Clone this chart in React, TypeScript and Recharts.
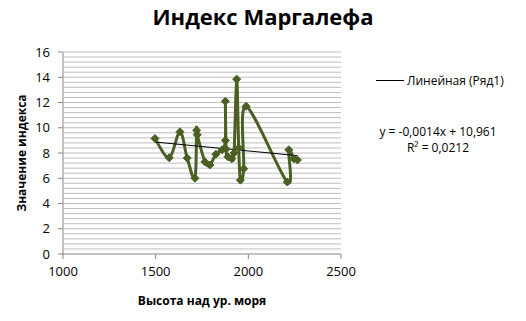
import { Line, LineChart, XAxis, YAxis } from "recharts";

// altitude (m) and Margalef index, in the order the series is drawn
const altitudes = [1496, 1573, 1631, 1670, 1712, 1721, 1724, 1766, 1793, 1825, 1858, 1876, 1876, 1880, 1890, 1910, 1923, 1937, 1948, 1957, 1975, 1988, 2210, 2218, 2245, 2265];
const indexValues = [9.15, 7.62, 9.68, 7.6, 6.0, 9.8, 9.45, 7.3, 7.05, 7.9, 8.25, 9.0, 12.1, 8.3, 7.7, 7.55, 8.0, 13.85, 8.4, 5.85, 6.75, 11.7, 5.7, 8.25, 7.55, 7.45];

// linear trendline end points
const trendX = [1496, 2265];
const trendY = [8.87, 7.79];

const xTicks = [1000, 1500, 2000, 2500];
const yTicks = [0, 2, 4, 6, 8, 10, 12, 14, 16];

const series = altitudes.map((x, i) => ({ x, y: indexValues[i] }));
const trend = trendX.map((x, i) => ({ x, t: trendY[i] }));
// minor gridlines: 5 per major step
const gridValues = yTicks.flatMap((t, i) => (i === 0 ? [t] : [1, 2, 3, 4, 5].map((k) => yTicks[i - 1] + (k * (t - yTicks[i - 1])) / 5)));
const yMin = yTicks[0];
const yMax = yTicks[yTicks.length - 1];

const GREEN = "#4b5f23";
const FONT = "'Open Sans', 'DejaVu Sans', sans-serif";
const W = 526;
const H = 321;
const MARGIN = { top: 52, right: 185, left: 0, bottom: 37 };
const PLOT_W = W - MARGIN.right - 63;
const TICK = 5;
const GAP = 8;

// Catmull-Rom style smoothing, close to Excel's smoothed lines
function smoothCurve(context: any) {
  let pts: number[][] = [];
  return {
    areaStart() {},
    areaEnd() {},
    lineStart() {
      pts = [];
    },
    point(x: number, y: number) {
      pts.push([+x, +y]);
    },
    lineEnd() {
      const n = pts.length;
      if (!n) return;
      context.moveTo(pts[0][0], pts[0][1]);
      for (let i = 0; i < n - 1; i++) {
        const p0 = pts[i - 1] || pts[i];
        const p1 = pts[i];
        const p2 = pts[i + 1];
        const p3 = pts[i + 2] || pts[i + 1];
        context.bezierCurveTo(
          p1[0] + (p2[0] - p0[0]) / 6,
          p1[1] + (p2[1] - p0[1]) / 6,
          p2[0] - (p3[0] - p1[0]) / 6,
          p2[1] - (p3[1] - p1[1]) / 6,
          p2[0],
          p2[1]
        );
      }
    },
  };
}

const Diamond = (props: any) => {
  const { cx, cy, index } = props;
  if (cx == null || cy == null) return <g key={`d${index}`} />;
  const r = 4;
  return <polygon key={`d${index}`} points={`${cx},${cy - r} ${cx + r},${cy} ${cx},${cy + r} ${cx - r},${cy}`} fill={GREEN} stroke={GREEN} />;
};

// gridline drawn from each tick of the background chart's y axis
const GridTick = (props: any) => {
  const { x, y, payload } = props;
  if (payload.value <= yMin) return <g />;
  const axisX = x + TICK + GAP;
  return <line x1={axisX + 1} x2={axisX + PLOT_W} y1={y} y2={y} stroke="#bdbdbd" strokeWidth={1} />;
};

export default function App() {
  return (
    <div style={{ position: "absolute", left: 0, top: 0, width: W, height: H, background: "#fff", fontFamily: FONT }}>
      <div style={{ position: "absolute", left: 0, width: W, top: 1, textAlign: "center", fontSize: 22, fontWeight: 700, color: "#000" }}>
        Индекс Маргалефа
      </div>
      {/* background chart: gridlines only */}
      <div style={{ position: "absolute", left: 0, top: 0 }}>
        <LineChart width={W} height={H} data={series} margin={MARGIN}>
          <YAxis type="number" domain={[yMin, yMax]} ticks={gridValues} interval={0} width={63} tickSize={TICK} tickMargin={GAP} tickLine={false} axisLine={false} tick={GridTick} />
          <XAxis dataKey="x" type="number" domain={[1000, 2500]} ticks={xTicks} height={30} axisLine={false} tickLine={false} tick={false} />
          <Line dataKey="y" stroke="none" dot={false} activeDot={false} isAnimationActive={false} />
        </LineChart>
      </div>
      {/* foreground chart: axes and series */}
      <div style={{ position: "absolute", left: 0, top: 0 }}>
        <LineChart width={W} height={H} data={series} margin={MARGIN}>
          <YAxis
            type="number"
            domain={[yMin, yMax]}
            ticks={yTicks}
            width={63}
            tickSize={TICK}
            tickMargin={GAP}
            stroke="#868686"
            tick={{ fill: "#000", fontSize: 13, fontFamily: FONT }}
          />
          <XAxis
            dataKey="x"
            type="number"
            domain={[1000, 2500]}
            ticks={xTicks}
            allowDataOverflow
            height={30}
            tickSize={TICK}
            tickMargin={GAP}
            stroke="#868686"
            tick={{ fill: "#000", fontSize: 13, fontFamily: FONT }}
          />
          <Line dataKey="y" type={smoothCurve as any} stroke={GREEN} strokeWidth={3} dot={Diamond} activeDot={false} isAnimationActive={false} />
          <Line data={trend} dataKey="t" type="linear" stroke="#000" strokeWidth={1} dot={false} activeDot={false} isAnimationActive={false} name="Линейная (Ряд1)" />
        </LineChart>
      </div>
      <div style={{ position: "absolute", left: 21, top: 153, transform: "translate(-50%, -50%) rotate(-90deg)", whiteSpace: "nowrap", fontSize: 12, fontWeight: 700 }}>
        Значение индекса
      </div>
      <div style={{ position: "absolute", left: 202, top: 300, transform: "translate(-50%, -50%)", whiteSpace: "nowrap", fontSize: 12, fontWeight: 700 }}>
        Высота над ур. моря
      </div>
      <div style={{ position: "absolute", left: 376, top: 80, width: 28, height: 1, background: "#000" }} />
      <div style={{ position: "absolute", left: 407, top: 80, transform: "translateY(-50%)", whiteSpace: "nowrap", fontSize: 12, color: "#000" }}>
        Линейная (Ряд1)
      </div>
      <div style={{ position: "absolute", left: 438, top: 140, transform: "translate(-50%, -50%)", textAlign: "center", whiteSpace: "nowrap", fontSize: 12, lineHeight: "16px", color: "#000" }}>
        y = -0,0014x + 10,961
        <br />
        R² = 0,0212
      </div>
    </div>
  );
}
